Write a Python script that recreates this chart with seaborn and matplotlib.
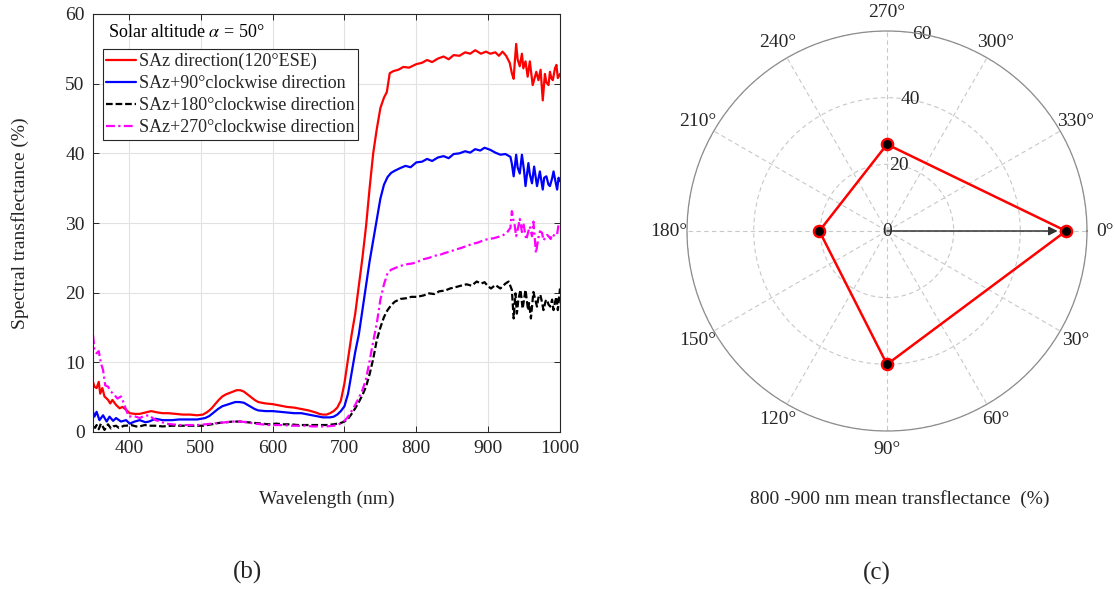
import numpy as np
import pandas as pd
import matplotlib
matplotlib.use("Agg")
import matplotlib.pyplot as plt
from matplotlib.lines import Line2D
import seaborn as sns

# ---- spectral transflectance curves: (wavelength nm, transflectance %) ----
saz_curve = [
    (350, 7.2), (352, 6.5), (355, 6.3), (358, 7.2), (360, 5.5), (363, 6.3), (366, 5.1),
    (371, 4.6), (374, 4.1), (377, 4.6), (382, 3.9), (387, 3.4), (391, 3.6), (396, 3.2),
    (401, 2.7), (408, 2.6), (415, 2.6), (423, 2.8), (431, 3.0), (440, 2.8), (447, 2.7),
    (455, 2.7), (465, 2.6), (475, 2.5), (485, 2.5), (495, 2.4), (503, 2.5), (508, 2.8),
    (512, 3.1), (516, 3.5), (520, 4.0), (525, 4.6), (530, 5.1), (535, 5.4), (540, 5.6),
    (545, 5.8), (550, 6.0), (555, 6.0), (560, 5.8), (565, 5.4), (570, 5.0), (575, 4.6),
    (580, 4.3), (590, 4.1), (600, 4.0), (610, 3.8), (620, 3.6), (630, 3.5), (640, 3.3),
    (650, 3.1), (660, 2.8), (665, 2.6), (670, 2.5), (675, 2.5), (680, 2.7), (685, 3.0),
    (690, 3.5), (695, 4.5), (700, 7.0), (705, 10.5), (710, 14.0), (715, 17.0), (720, 21.0),
    (725, 25.0), (730, 29.5), (735, 35.0), (740, 40.0), (745, 43.5), (750, 46.5), (755, 48.0),
    (759, 48.8), (763, 51.5), (768, 51.8), (775, 52.0), (782, 52.4), (790, 52.3), (800, 52.8),
    (808, 53.0), (815, 53.4), (822, 53.1), (830, 53.6), (838, 53.9), (845, 53.5), (852, 54.1),
    (860, 54.0), (868, 54.5), (875, 54.3), (882, 54.8), (890, 54.3), (897, 54.6), (903, 54.3),
    (910, 54.5), (915, 54.0), (920, 54.6), (925, 54.0), (930, 53.0), (933, 51.5), (935.5, 50.7),
    (937, 53.0), (939, 55.7), (941, 53.5), (944, 52.5), (947, 54.3), (949, 52.2), (952, 53.2),
    (955, 51.0), (958, 53.2), (962, 49.8), (967, 51.7), (970, 50.5), (973, 52.0), (976, 47.6),
    (979, 51.4), (981, 50.2), (984, 49.8), (986, 51.7), (988, 50.8), (990, 50.5), (993, 52.2),
    (995, 52.7), (997, 50.8), (1000, 51.4),
]

saz90_curve = [
    (350, 2.9), (352, 2.2), (355, 2.9), (359, 1.7), (364, 2.4), (369, 1.5), (373, 2.2),
    (378, 1.6), (382, 2.0), (389, 1.5), (396, 1.7), (401, 1.2), (408, 1.5), (415, 1.7),
    (423, 1.4), (428, 1.5), (437, 1.9), (447, 1.7), (460, 1.7), (470, 1.8), (483, 1.8),
    (495, 1.8), (506, 2.0), (512, 2.3), (518, 2.8), (524, 3.3), (530, 3.7), (536, 3.9),
    (542, 4.1), (548, 4.3), (554, 4.3), (560, 4.2), (565, 3.9), (570, 3.6), (575, 3.3),
    (580, 3.1), (590, 3.0), (600, 3.0), (610, 2.9), (620, 2.8), (630, 2.7), (640, 2.7),
    (650, 2.5), (660, 2.3), (670, 2.1), (680, 2.1), (685, 2.2), (690, 2.5), (695, 3.0),
    (700, 3.7), (705, 5.5), (710, 8.5), (715, 11.5), (720, 14.0), (725, 17.5), (730, 21.0),
    (735, 24.5), (740, 27.5), (745, 30.5), (750, 33.5), (755, 35.5), (760, 36.6), (765, 37.2),
    (770, 37.5), (778, 37.9), (785, 38.2), (792, 38.0), (800, 38.7), (808, 38.8), (815, 39.2),
    (822, 38.9), (830, 39.4), (838, 39.6), (845, 39.3), (852, 39.9), (860, 40.0), (868, 40.3),
    (875, 40.1), (882, 40.6), (889, 40.4), (895, 40.8), (903, 40.5), (910, 40.1), (917, 39.8),
    (924, 39.9), (931, 39.5), (933, 38.5), (935.5, 36.7), (939, 39.8), (941, 38.0), (944, 37.1),
    (947, 39.8), (950, 37.5), (952, 35.3), (956, 38.6), (958, 37.0), (961, 35.7), (964, 38.1),
    (968, 35.3), (972, 37.4), (976, 34.8), (978, 36.5), (981, 36.7), (984, 35.5), (986, 35.3),
    (989, 36.4), (991, 37.4), (994, 35.8), (996, 34.8), (998, 36.5), (1000, 36.0),
]

saz180_curve = [
    (350, 0.8), (353, 0.6), (355, 1.0), (358, 0.4), (361, 1.2), (364, 0.7), (366, 0.3),
    (369, 0.8), (371, 1.1), (375, 0.5), (378, 0.8), (382, 0.9), (386, 0.6), (389, 0.7),
    (393, 0.9), (396, 0.9), (403, 1.0), (410, 0.8), (415, 0.8), (422, 1.0), (428, 0.9),
    (437, 0.9), (447, 0.8), (460, 0.9), (475, 0.9), (490, 0.9), (503, 0.9), (515, 1.1),
    (525, 1.3), (535, 1.4), (545, 1.5), (555, 1.5), (565, 1.4), (575, 1.3), (585, 1.2),
    (595, 1.1), (605, 1.2), (615, 1.1), (625, 1.1), (635, 1.0), (645, 1.0), (655, 1.0),
    (665, 1.0), (675, 1.0), (685, 1.1), (690, 1.2), (695, 1.3), (700, 1.5), (705, 1.9),
    (710, 2.6), (715, 3.4), (720, 4.3), (725, 5.3), (730, 6.5), (735, 8.3), (740, 10.5),
    (745, 13.2), (750, 15.0), (755, 16.5), (760, 17.5), (765, 18.2), (770, 18.7), (778, 19.1),
    (786, 19.2), (793, 19.4), (801, 19.4), (810, 19.6), (818, 19.9), (825, 19.8), (832, 20.2),
    (840, 20.3), (847, 20.6), (855, 20.8), (862, 21.0), (870, 21.2), (877, 21.0), (884, 21.6),
    (890, 21.3), (895, 21.5), (900, 20.9), (904, 20.6), (910, 21.1), (917, 20.6), (924, 21.3),
    (928.5, 21.6), (933, 20.4), (935.5, 16.3), (938, 19.9), (940, 17.0), (942, 19.0), (945, 20.4),
    (948, 17.7), (952, 20.4), (955.5, 17.5), (957, 18.5), (959.5, 16.3), (963, 20.1), (966, 18.8),
    (968, 18.0), (970, 19.3), (972.6, 19.7), (975, 18.6), (977, 17.5), (980, 18.8), (982, 19.0),
    (984, 18.3), (986.5, 18.0), (989, 19.0), (991, 17.5), (993, 18.6), (995, 19.4), (997, 17.5),
    (999, 19.5), (1000, 20.6),
]

saz270_curve = [
    (350, 13.9), (352, 11.8), (355, 11.3), (358, 11.6), (361, 9.9), (364, 8.9), (367, 6.7),
    (371, 6.5), (375, 5.8), (380, 5.3), (384, 4.8), (389, 5.1), (393, 4.1), (396, 3.2),
    (400, 2.2), (407, 2.3), (415, 2.0), (421, 2.3), (428, 2.4), (433, 2.0), (437, 1.7),
    (444, 1.5), (451, 1.2), (460, 1.1), (470, 1.0), (483, 1.0), (495, 1.0), (506, 1.1),
    (515, 1.2), (525, 1.3), (535, 1.4), (545, 1.5), (555, 1.5), (565, 1.4), (575, 1.2),
    (585, 1.1), (595, 1.0), (605, 1.0), (615, 1.0), (625, 0.9), (635, 0.9), (645, 0.9),
    (655, 0.8), (665, 0.8), (675, 0.8), (685, 0.9), (690, 1.0), (694, 1.2), (698, 1.5),
    (701, 1.7), (705, 2.2), (710, 3.0), (715, 3.9), (720, 4.9), (725, 6.0), (730, 7.6),
    (735, 10.2), (740, 13.0), (745, 15.6), (750, 19.0), (755, 21.2), (760, 22.8), (765, 23.3),
    (772, 23.6), (780, 23.9), (788, 24.1), (795, 24.2), (801, 24.4), (810, 24.8), (818, 25.0),
    (825, 25.3), (832, 25.4), (840, 25.7), (847, 25.9), (855, 26.2), (862, 26.4), (870, 26.7),
    (878, 27.0), (886, 27.2), (893, 27.5), (900, 27.7), (907, 27.8), (914, 28.0), (920, 28.2),
    (926, 28.6), (931, 29.3), (933, 31.7), (935, 30.5), (936.5, 30.0), (939, 28.1), (942, 29.5),
    (944, 30.6), (947, 28.7), (949, 30.0), (953, 27.6), (956, 28.8), (958, 29.5), (961, 28.1),
    (963, 30.2), (966.5, 25.7), (970, 27.9), (972, 28.8), (975, 28.6), (977, 27.5), (979.5, 27.9),
    (982, 28.3), (984, 28.1), (987, 27.7), (989, 28.4), (993, 28.1), (996, 28.4), (998, 29.8),
    (1000, 30.0),
]

series_labels = [
    "SAz direction(120°ESE)",
    "SAz+90°clockwise direction",
    "SAz+180°clockwise direction",
    "SAz+270°clockwise direction",
]
series_colors = ["#ff0000", "#0000ff", "#000000", "#ff00ff"]
series_dashes = ["", "", (3.0, 1.3), (4.0, 1.5, 1.0, 1.5)]

# ---- polar panel: 800-900 nm mean transflectance per viewing direction ----
directions_deg = [0, 90, 180, 270]
mean_transflectance = [53.7, 40.0, 20.3, 26.0]

x_ticks = [400, 500, 600, 700, 800, 900, 1000]
y_ticks = [0, 10, 20, 30, 40, 50, 60]
r_ticks = [0, 20, 40, 60]
theta_ticks = list(range(0, 360, 30))

sns.set_theme(style="ticks")
plt.rcParams["font.family"] = ["Liberation Serif", "DejaVu Serif"]
plt.rcParams["mathtext.fontset"] = "stix"
text_color = "#262626"

W, H = 1115, 589
fig = plt.figure(figsize=(W / 100, H / 100), dpi=100)
fig.patch.set_facecolor("white")

# ---------------- (b) spectral curves ----------------
ax = fig.add_axes([93 / W, 1 - 432 / H, 467 / W, 418 / H])
frames = []
for lab, curve in zip(series_labels, [saz_curve, saz90_curve, saz180_curve, saz270_curve]):
    wl, val = zip(*curve)
    frames.append(pd.DataFrame({"wavelength": wl, "transflectance": val, "direction": lab}))
spec = pd.concat(frames, ignore_index=True)

sns.lineplot(
    data=spec, x="wavelength", y="transflectance", hue="direction", style="direction",
    hue_order=series_labels, style_order=series_labels,
    palette=dict(zip(series_labels, series_colors)),
    dashes=dict(zip(series_labels, series_dashes)),
    estimator=None, sort=False, linewidth=1.6, legend=False, ax=ax,
)

ax.set_xlim(350, 1000)
ax.set_ylim(0, 60)
ax.set_xticks(x_ticks)
ax.set_yticks(y_ticks)
ax.grid(True, color="#e2e2e2", linewidth=0.8)
ax.set_axisbelow(True)
for sp in ax.spines.values():
    sp.set_visible(True)
    sp.set_color(text_color)
    sp.set_linewidth(0.8)
ax.tick_params(direction="in", top=True, right=True, length=4, width=0.7,
               labelsize=14, colors=text_color, pad=6)
ax.set_xlabel("Wavelength (nm)", fontsize=14, color=text_color, labelpad=24)
ax.set_ylabel("Spectral transflectance (%)", fontsize=14, color=text_color, labelpad=26)

ax.text(0.032, 0.955, r"Solar altitude $\alpha$ = 50°", transform=ax.transAxes,
        fontsize=13, color="black", ha="left", va="center")

handles = [Line2D([], [], color=c, linewidth=1.6,
                  linestyle=(0, d) if d else "-") for c, d in zip(series_colors, series_dashes)]
leg = ax.legend(handles, series_labels, loc="upper left", bbox_to_anchor=(0.021, 0.916),
                fontsize=13, frameon=True, fancybox=False, framealpha=1,
                edgecolor=text_color, borderpad=0.2, labelspacing=0.28,
                handlelength=1.65, handletextpad=0.15, borderaxespad=0.0)
leg.get_frame().set_linewidth(0.8)

# ---------------- (c) polar panel ----------------
pax = fig.add_axes([687 / W, 1 - 431 / H, 400 / W, 400 / H], projection="polar")
pax.set_theta_zero_location("E")
pax.set_theta_direction(-1)

theta = np.deg2rad(directions_deg + directions_deg[:1])
radius = mean_transflectance + mean_transflectance[:1]
poly = pd.DataFrame({"theta": theta, "r": radius})
sns.lineplot(data=poly, x="theta", y="r", sort=False, estimator=None,
             color="#ff0000", linewidth=1.8, ax=pax)
sns.scatterplot(x=np.deg2rad(directions_deg), y=mean_transflectance, marker="o",
                s=65, color="black", edgecolor="#ff0000", linewidth=1.7, zorder=5, ax=pax)

pax.annotate("", xy=(np.deg2rad(directions_deg[0]), mean_transflectance[0]), xytext=(0, 0),
             arrowprops=dict(arrowstyle="-|>", color="#333333", lw=1.1,
                             shrinkA=0, shrinkB=6, mutation_scale=13), zorder=4)

pax.set_ylim(0, 60)
pax.set_yticks(r_ticks)
pax.set_yticklabels([str(v) for v in r_ticks])
pax.set_rlabel_position(280)
pax.set_xticks(np.deg2rad(theta_ticks))
pax.set_xticklabels([f"{d}°" for d in theta_ticks])
pax.set_xlabel("")
pax.set_ylabel("")
pax.grid(True, color="#c8c8c8", linestyle=(0, (4, 3)), linewidth=0.8)
pax.spines["polar"].set_color("#8c8c8c")
pax.spines["polar"].set_linewidth(0.9)
pax.tick_params(axis="x", labelsize=14, colors=text_color, pad=0)
pax.tick_params(axis="y", labelsize=14, colors=text_color)
pax.set_facecolor("white")

fig.text(900 / W, 1 - 499 / H, "800 -900 nm mean transflectance  (%)",
         fontsize=14, color=text_color, ha="center", va="center")
fig.text(248 / W, 1 - 572 / H, "(b)", fontsize=18, color=text_color, ha="center", va="center")
fig.text(877 / W, 1 - 573 / H, "(c)", fontsize=18, color=text_color, ha="center", va="center")

fig.canvas.draw()
for lbl in pax.get_yticklabels():
    lbl.set_horizontalalignment("center")
    lbl.set_verticalalignment("center")

fig.savefig("out.png", dpi=100, facecolor="white")
